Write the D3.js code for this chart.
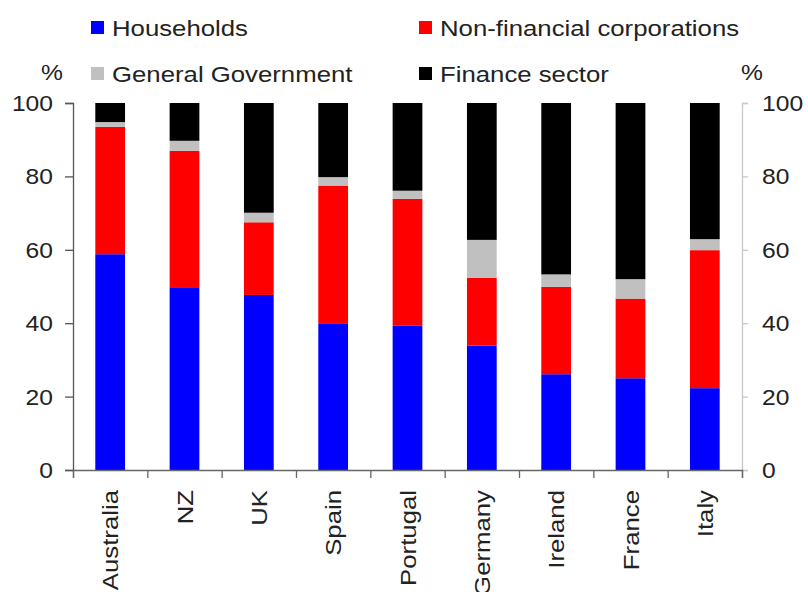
<!DOCTYPE html>
<html><head><meta charset="utf-8">
<script src="https://cdn.jsdelivr.net/npm/d3@7"></script>
<style>body{margin:0;background:#fff}svg{display:block}</style>
</head><body>
<svg id="c" width="808" height="592"></svg>
<script>
const categories = ["Australia","NZ","UK","Spain","Portugal","Germany","Ireland","France","Italy"];
const households = [58.8, 49.8, 47.7, 39.8, 39.4, 33.9, 26.1, 25.0, 22.3];
const nonFinancial = [34.7, 37.2, 19.8, 37.7, 34.5, 18.5, 23.8, 21.7, 37.6];
const generalGov = [1.3, 2.7, 2.6, 2.3, 2.2, 10.3, 3.4, 5.3, 3.0];
const financeSector = [5.2, 10.3, 29.9, 20.2, 23.9, 37.3, 46.7, 48.0, 37.1];
const seriesNames = ["Households","Non-financial corporations","General Government","Finance sector"];
const seriesColors = ["#0000ff","#ff0000","#c0c0c0","#000000"];
const yTicks = [0,20,40,60,80,100];

const SX = 1.12, TXT = "#222";
const svg = d3.select("#c");
const font = "'Liberation Sans', Arial, sans-serif";

const L = 73, R = 742, T = 103, B = 470;
const x = d3.scaleBand().domain(categories).range([L, R]).paddingInner(0.6).paddingOuter(0.3);
const y = d3.scaleLinear().domain([0, 100]).range([B, T]);

const rows = categories.map((c, i) => ({cat: c, s0: households[i], s1: nonFinancial[i], s2: generalGov[i], s3: financeSector[i]}));
const stacked = d3.stack().keys(["s0","s1","s2","s3"])(rows);

function stretchedText(g, x0, y0, txt, anchor, fs, rotate) {
  return g.append("g").attr("transform", `translate(${x0},${y0})` + (rotate ? ` rotate(${rotate})` : "") + ` scale(${SX},1)`)
    .append("text").attr("text-anchor", anchor).attr("font-family", font).attr("font-size", fs).attr("fill", TXT).text(txt);
}

// bars
svg.append("g").selectAll("g").data(stacked).join("g")
  .attr("fill", (d, i) => seriesColors[i])
  .selectAll("rect").data(d => d).join("rect")
  .attr("x", d => x(d.data.cat))
  .attr("width", x.bandwidth())
  .attr("y", d => y(d[1]))
  .attr("height", d => y(d[0]) - y(d[1]));

// left axis
const la = svg.append("g").attr("transform", `translate(${L},0)`)
  .call(d3.axisLeft(y).tickValues(yTicks).tickSize(8).tickFormat(""));
la.select(".domain").attr("stroke", "#555").attr("stroke-width", 1.3);
la.selectAll(".tick line").attr("stroke", "#555").attr("stroke-width", 1.3);
yTicks.forEach(v => stretchedText(svg, 53, y(v) + 8, String(v), "end", 22));

// right axis
const ra = svg.append("g").attr("transform", `translate(${R},0)`)
  .call(d3.axisRight(y).tickValues(yTicks).tickSize(6).tickFormat(""));
ra.select(".domain").attr("stroke", "#c8c8c8").attr("stroke-width", 1.3);
ra.selectAll(".tick line").attr("stroke", "#c8c8c8").attr("stroke-width", 1.3);
yTicks.forEach(v => stretchedText(svg, 762, y(v) + 8, String(v), "start", 22));

// bottom axis
const xb = d3.scaleLinear().domain([0, categories.length]).range([L, R]);
const ba = svg.append("g").attr("transform", `translate(0,${B})`)
  .call(d3.axisBottom(xb).ticks(categories.length).tickSize(8).tickFormat("").tickSizeOuter(8));
ba.select(".domain").attr("stroke", "#666").attr("stroke-width", 1.3);
ba.selectAll(".tick line").attr("stroke", "#666").attr("stroke-width", 1.3);
categories.forEach(c => stretchedText(svg, x(c) + x.bandwidth() / 2 + 8, 490, c, "end", 23, -90));

// % labels
stretchedText(svg, 52, 80, "%", "middle", 22);
stretchedText(svg, 752, 80, "%", "middle", 22);

// legend
const legPos = [[91, 21], [419, 21], [91, 67], [419, 67]];
seriesNames.forEach((n, i) => {
  const [lx, ly] = legPos[i];
  svg.append("rect").attr("x", lx).attr("y", ly).attr("width", 13).attr("height", 13).attr("fill", seriesColors[i]);
  stretchedText(svg, lx + 21, ly + 15, n, "start", 23);
});
</script>
</body></html>
